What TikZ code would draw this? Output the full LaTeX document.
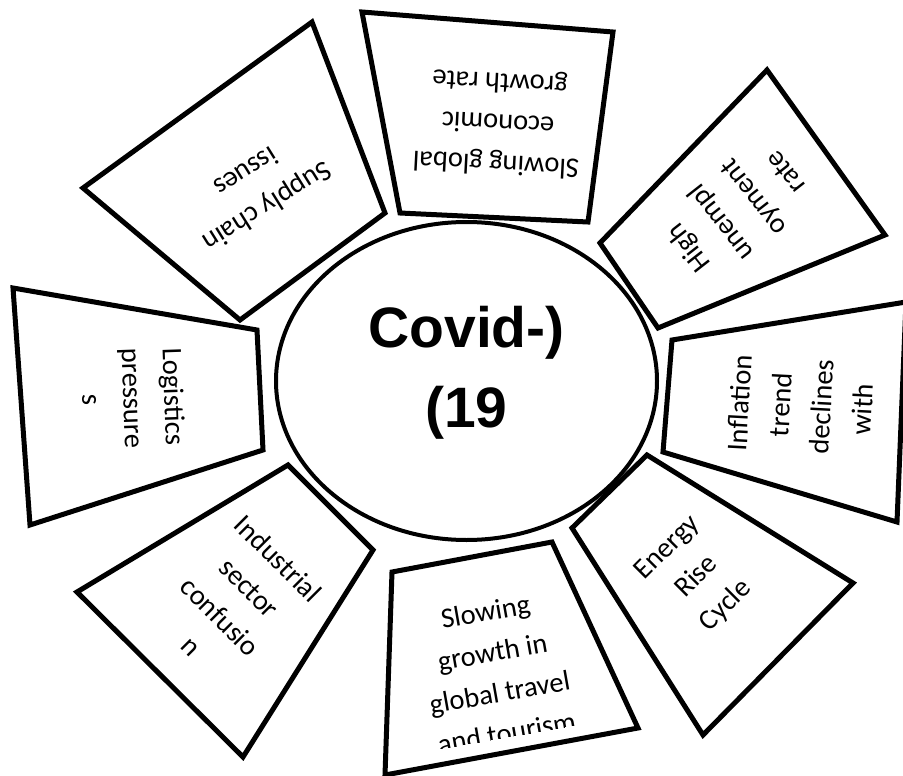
\documentclass[tikz,border=0pt]{standalone}
\usepackage{fontspec}
\setmainfont{Carlito}
\newfontfamily\arialfont{Liberation Sans}
\usetikzlibrary{shapes.geometric}
\tikzset{
  petal/.style={draw=black, fill=white, line width=5pt, line join=miter},
  ptext/.style={align=center, font=\fontsize{28.5}{41}\selectfont, inner sep=0pt},
  hub/.style={ellipse, draw=black, fill=white, line width=4pt, minimum width=381pt, minimum height=318pt, inner sep=0pt},
  hubtext/.style={align=center, font=\arialfont\bfseries\fontsize{57}{80}\selectfont, inner sep=0pt}
}
\begin{document}
\begin{tikzpicture}[x=1pt,y=-1pt]
\useasboundingbox (0,0) rectangle (903,776);
\clip (0,0) rectangle (903,776);
\fill[white] (0,0) rectangle (903,776);

\node[hub] (covid) at (466.5,381) {};
\node[hubtext] (covidtext) at (466.5,373) {Covid-)\\(19};

\draw[petal] (362,12) -- (613,32) -- (588,222) -- (400,213) -- cycle;
\draw[petal] (312,22) -- (385,213) -- (240,320) -- (83,188) -- cycle;
\draw[petal] (767,70) -- (885,235) -- (658,328) -- (600,243) -- cycle;
\draw[petal] (13,288) -- (257,330) -- (263,450) -- (30,525) -- cycle;
\draw[petal] (672,340) -- (906,302) -- (897,522) -- (663,452) -- cycle;
\draw[petal] (288,465) -- (373,550) -- (243,757) -- (77,592) -- cycle;
\draw[petal] (392,572) -- (552,542) -- (638,728) -- (385,775) -- cycle;
\draw[petal] (647,455) -- (853,583) -- (703,735) -- (572,528) -- cycle;

\node[ptext, rotate=177] (t1) at (498,122) {Slowing global\\economic\\growth rate};
\node[ptext, rotate=-148] (t2) at (257,190) {Supply chain\\issues};
\node[ptext, rotate=128] (t3) at (736,211) {High\\unempl\\oyment\\rate};
\node[ptext, rotate=-88] (t4) at (133,398) {Logistics\\pressure\\s};
\node[ptext, rotate=87] (t5) at (801,406) {Inflation\\trend\\declines\\with};
\node[ptext, rotate=-45] (t6) at (235,602) {Industrial\\sector\\confusio\\n};
\begin{scope}[shift={(496,672)}, rotate=10]
  \clip (-150,66) rectangle (150,-110);
  \node[ptext, transform shape] (t7) at (0,0) {Slowing\\growth in\\global travel\\and tourism};
\end{scope}
\node[ptext, rotate=45] (t8) at (697,577) {Energy\\Rise\\Cycle};
\end{tikzpicture}
\end{document}
